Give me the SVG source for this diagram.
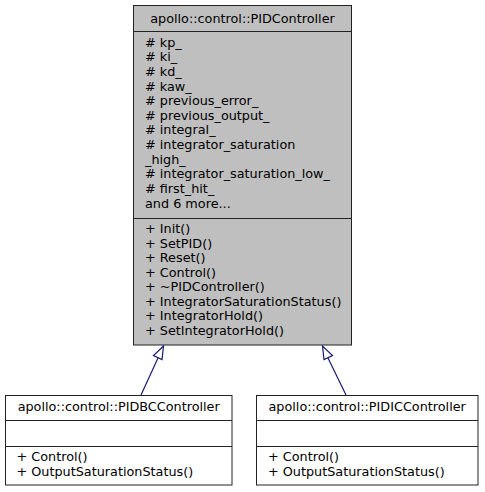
<svg xmlns="http://www.w3.org/2000/svg" width="485" height="492" viewBox="0 0 485 492">
<defs>
<style>
text{font-family:"DejaVu Sans","Noto Sans",sans-serif;font-size:12.8px;fill:#000}
.box{stroke:#222;stroke-width:1}
.main{fill:#bfbfbf}
.child{fill:#fff}
.sep{stroke:#222;stroke-width:1}
.edge{stroke:#191970;stroke-width:1.2;fill:none}
.head{stroke:#191970;stroke-width:1.2;fill:#fff}
.c{text-anchor:middle}
</style>
</defs>
<rect width="485" height="492" fill="#fff"/>
<g id="connectors">
<line class="edge" x1="141" y1="395" x2="158" y2="358"/>
<polygon class="head" points="163.5,346 153.5,355.5 162,359.5"/>
<line class="edge" x1="346" y1="395" x2="328" y2="358"/>
<polygon class="head" points="322.5,346 324,359.5 332.5,355.5"/>
</g>
<g id="PIDController">
<rect class="box main" x="133.5" y="5.5" width="218" height="339.5"/>
<line class="sep" x1="133.5" y1="31.5" x2="351.5" y2="31.5"/>
<line class="sep" x1="133.5" y1="218.5" x2="351.5" y2="218.5"/>
<text class="c" x="242.5" y="22.5">apollo::control::PIDController</text>
<text x="145" y="46.7"># kp_</text>
<text x="145" y="61.3"># ki_</text>
<text x="145" y="75.9"># kd_</text>
<text x="145" y="90.5"># kaw_</text>
<text x="145" y="105.1"># previous_error_</text>
<text x="145" y="119.7"># previous_output_</text>
<text x="145" y="134.3"># integral_</text>
<text x="145" y="148.9"># integrator_saturation</text>
<text x="145" y="163.5">_high_</text>
<text x="145" y="178.1"># integrator_saturation_low_</text>
<text x="145" y="192.7"># first_hit_</text>
<text x="145" y="207.8">and 6 more...</text>
<text x="145" y="233.3">+ Init()</text>
<text x="145" y="247.8">+ SetPID()</text>
<text x="145" y="262.3">+ Reset()</text>
<text x="145" y="276.8">+ Control()</text>
<text x="145" y="291.3">+ ~PIDController()</text>
<text x="145" y="305.8">+ IntegratorSaturationStatus()</text>
<text x="145" y="320.3">+ IntegratorHold()</text>
<text x="145" y="334.8">+ SetIntegratorHold()</text>
</g>
<g id="PIDBCController">
<rect class="box child" x="5.5" y="395.5" width="226.5" height="89.5"/>
<line class="sep" x1="5.5" y1="420.5" x2="232" y2="420.5"/>
<line class="sep" x1="5.5" y1="446.5" x2="232" y2="446.5"/>
<text class="c" x="118.7" y="411">apollo::control::PIDBCController</text>
<text x="16.5" y="461">+ Control()</text>
<text x="16.5" y="476">+ OutputSaturationStatus()</text>
</g>
<g id="PIDICController">
<rect class="box child" x="256.5" y="395.5" width="221.5" height="89.5"/>
<line class="sep" x1="256.5" y1="420.5" x2="478" y2="420.5"/>
<line class="sep" x1="256.5" y1="446.5" x2="478" y2="446.5"/>
<text class="c" x="367.2" y="411">apollo::control::PIDICController</text>
<text x="268" y="461">+ Control()</text>
<text x="268" y="476">+ OutputSaturationStatus()</text>
</g>
</svg>
